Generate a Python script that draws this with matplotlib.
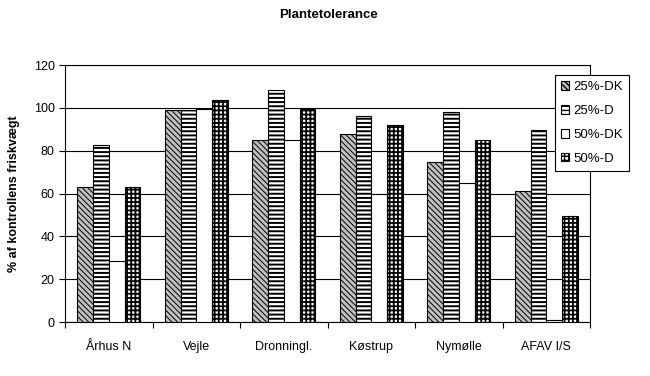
import matplotlib
matplotlib.use("Agg")
import matplotlib.pyplot as plt
import numpy as np

plt.rcParams['font.family'] = ['Liberation Sans', 'DejaVu Sans']

# data
sites = ["Århus N", "Vejle", "Dronningl.", "Køstrup", "Nymølle", "AFAV I/S"]
series_names = ["25%-DK", "25%-D", "50%-DK", "50%-D"]
dk25 = [63, 99, 85, 88, 74.5, 61]
d25 = [82.5, 99, 108.5, 96, 98, 89.5]
dk50 = [28.5, 99.5, 85, 60, 65, 1]
d50 = [63, 103.5, 99.5, 92, 85, 49.5]

# fill, hatch, hatch line width for each series
styles = [("#c0c0c0", "\\\\\\\\\\\\", 0.7),
          ("white", "----", 1.4),
          ("white", "", 1.0),
          ("white", "++++", 1.3)]

fig = plt.figure(figsize=(6.5, 3.76), dpi=100)
ax = fig.add_axes([0.1, 0.1436, 0.808, 0.6835])

x = np.arange(len(sites))
w = 0.18
for i, vals in enumerate([dk25, d25, dk50, d50]):
    fc, hatch, hlw = styles[i]
    with plt.rc_context({'hatch.linewidth': hlw}):
        bars = ax.bar(x + (i - 1.5) * w, vals, w, color=fc, edgecolor="black",
                      hatch=hatch, linewidth=0.8, label=series_names[i], zorder=3)
    for b in bars:
        if hasattr(b, "set_hatch_linewidth"):
            b.set_hatch_linewidth(hlw)

ax.set_ylim(0, 120)
ax.set_xlim(-0.5, len(sites) - 0.5)
ax.set_yticks(np.arange(0, 121, 20))
ax.yaxis.grid(True, color="black", linewidth=0.8, zorder=0)
ax.set_axisbelow(True)

# category ticks sit on the boundaries, labels in the middle
ax.set_xticks(np.arange(len(sites) + 1) - 0.5)
ax.set_xticklabels([])
ax.set_xticks(x, minor=True)
ax.set_xticklabels(sites, minor=True)
ax.tick_params(axis="x", which="major", direction="out", length=4, width=0.8)
ax.tick_params(axis="x", which="minor", length=0, pad=14, labelsize=9)
ax.tick_params(axis="y", direction="out", length=4, width=0.8, pad=3.5, labelsize=9)

for s in ax.spines.values():
    s.set_color("black")
    s.set_linewidth(0.8)

ax.set_ylabel("% af kontrollens friskvægt", fontsize=9, fontweight="bold", labelpad=10)
fig.text(0.505, 0.96, "Plantetolerance", ha="center", va="center",
         fontsize=9.5, fontweight="bold")

leg = ax.legend(loc="upper left", bbox_to_anchor=(0.9335, 0.96), fontsize=9.5,
                frameon=True, fancybox=False, edgecolor="black", framealpha=1,
                handlelength=0.6, handleheight=0.6, handletextpad=0.3,
                labelspacing=0.9, borderpad=0.45, borderaxespad=0)
leg.get_frame().set_linewidth(0.8)
leg.set_zorder(5)

fig.savefig("out.png", dpi=100)
